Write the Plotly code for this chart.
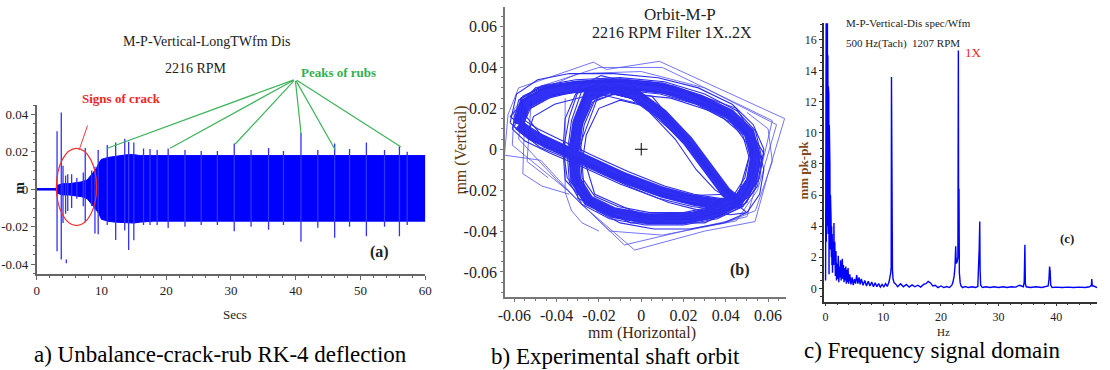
import plotly.graph_objects as go

# ---------------- DATA ----------------
# Panel (a): time waveform envelope (s, m)
env_t = [0, 3.0, 3.1, 4.0, 5.0, 6.0, 7.0, 7.8, 8.3, 8.8, 9.2, 9.6, 10.0, 10.5, 11.0, 12.0, 13.0,
         14.0, 15.0, 16.0, 18.0, 25.0, 35.0, 45.0, 55.0, 60.0]
env_hi = [0.0004, 0.0004, 0.002, 0.003, 0.003, 0.0035, 0.004, 0.005, 0.007, 0.009, 0.011, 0.014,
          0.016, 0.0165, 0.017, 0.0175, 0.018, 0.0185, 0.0185, 0.018, 0.018, 0.018, 0.018, 0.018,
          0.018, 0.018]
env_lo = [-0.0004, -0.0004, -0.002, -0.003, -0.003, -0.0035, -0.004, -0.005, -0.007, -0.009, -0.011,
          -0.013, -0.016, -0.0165, -0.017, -0.0175, -0.0178, -0.018, -0.018, -0.0175, -0.017, -0.017,
          -0.017, -0.017, -0.017, -0.017]
spike_t = [3.15, 3.8, 4.07, 4.47, 4.58, 4.8, 5.4, 6.2, 7.2, 7.5, 8.5, 9.0, 9.5, 10.9, 12.2, 13.6,
           14.2, 15.0, 16.5, 17.5, 18.6, 20.3, 22.9, 25.4, 27.9, 30.5, 33.1, 35.8, 38.1, 40.8, 43.4,
           46.0, 48.3, 50.9, 53.7, 56.0, 57.2]
spike_hi = [0.031, 0.041, 0.0126, 0.0074, -0.0375, 0.008, 0.008, 0.006, 0.009, 0.022, 0.010, 0.012,
            0.021, 0.0236, 0.025, 0.027, 0.0254, 0.025, 0.0218, 0.0215, 0.021, 0.0218, 0.021, 0.0205,
            0.0205, 0.0245, 0.021, 0.022, 0.0205, 0.030, 0.021, 0.0245, 0.0215, 0.025, 0.021, 0.023,
            0.020]
spike_lo = [-0.033, -0.0374, -0.018, -0.013, -0.0395, -0.0116, -0.010, -0.005, -0.009, -0.0176, -0.009,
            -0.0236, -0.024, -0.019, -0.027, -0.022, -0.0324, -0.0272, -0.019, -0.019, -0.019, -0.0206,
            -0.020, -0.019, -0.019, -0.0224, -0.020, -0.0216, -0.019, -0.028, -0.0205, -0.0259, -0.020,
            -0.025, -0.020, -0.025, -0.019]
rub_t = [10.93, 20.6, 30.66, 40.84, 46.1, 56.2]
rub_y = [0.0219, 0.0219, 0.0242, 0.029, 0.021, 0.0227]
a_xticks = [0, 10, 20, 30, 40, 50, 60]
a_yticks = [-0.04, -0.02, 0, 0.02, 0.04]
a_ytext = ["-0.04", "-0.02", "0", "0.02", "0.04"]

# Panel (b): orbit paths (mm) - main band path and thin repeat cycles
orbit_band_x = [-0.058, -0.055, -0.045, -0.030, -0.010, 0.010, 0.028, 0.042, 0.051, 0.054, 0.052, 0.046,
                0.035, 0.020, 0.003, -0.013, -0.025, -0.031, -0.032, -0.030, -0.025, -0.015, -0.003,
                0.010, 0.022, 0.032, 0.040, 0.046, 0.038, 0.025, 0.010, -0.008, -0.025, -0.040, -0.052,
                -0.058]
orbit_band_y = [0.012, 0.022, 0.028, 0.031, 0.032, 0.030, 0.024, 0.017, 0.008, -0.004, -0.016, -0.025,
                -0.031, -0.034, -0.034, -0.031, -0.025, -0.015, -0.002, 0.013, 0.026, 0.030, 0.027,
                0.017, 0.004, -0.011, -0.021, -0.026, -0.027, -0.025, -0.021, -0.014, -0.006, 0.001,
                0.007, 0.012]
orbit_cycles = [
    ([-0.061, -0.058, -0.047, -0.031, -0.010, 0.011, 0.030, 0.045, 0.054, 0.057, 0.055, 0.048, 0.036,
      0.020, 0.002, -0.015, -0.028, -0.034, -0.035, -0.033, -0.028, -0.017, -0.005, 0.008, 0.020, 0.030,
      0.039, 0.048, 0.039, 0.024, 0.008, -0.010, -0.027, -0.043, -0.055, -0.061],
     [0.010, 0.024, 0.031, 0.034, 0.035, 0.033, 0.027, 0.019, 0.009, -0.004, -0.018, -0.028, -0.034,
      -0.037, -0.037, -0.034, -0.027, -0.016, -0.002, 0.014, 0.029, 0.033, 0.030, 0.020, 0.007, -0.008,
      -0.019, -0.028, -0.030, -0.028, -0.024, -0.017, -0.009, -0.002, 0.004, 0.010]),
    ([-0.055, -0.052, -0.043, -0.029, -0.010, 0.009, 0.026, 0.039, 0.048, 0.051, 0.049, 0.044, 0.034,
      0.020, 0.004, -0.011, -0.022, -0.028, -0.029, -0.027, -0.022, -0.013, -0.001, 0.012, 0.024, 0.034,
      0.041, 0.044, 0.037, 0.025, 0.011, -0.006, -0.023, -0.037, -0.049, -0.055],
     [0.014, 0.021, 0.026, 0.028, 0.029, 0.027, 0.022, 0.015, 0.007, -0.004, -0.014, -0.022, -0.028,
      -0.031, -0.031, -0.028, -0.023, -0.014, -0.002, 0.012, 0.024, 0.027, 0.024, 0.014, 0.001, -0.013,
      -0.022, -0.024, -0.024, -0.022, -0.018, -0.011, -0.003, 0.004, 0.010, 0.014]),
    ([-0.060, -0.056, -0.046, -0.032, -0.012, 0.008, 0.026, 0.040, 0.049, 0.053, 0.051, 0.045, 0.034,
      0.019, 0.002, -0.014, -0.026, -0.033, -0.034, -0.031, -0.026, -0.016, -0.004, 0.009, 0.021, 0.031,
      0.038, 0.044, 0.036, 0.023, 0.008, -0.010, -0.027, -0.042, -0.053, -0.060],
     [0.016, 0.026, 0.031, 0.033, 0.033, 0.031, 0.026, 0.019, 0.011, 0.000, -0.013, -0.022, -0.029,
      -0.032, -0.032, -0.029, -0.023, -0.013, 0.001, 0.016, 0.028, 0.032, 0.029, 0.019, 0.006, -0.009,
      -0.019, -0.023, -0.025, -0.023, -0.019, -0.011, -0.003, 0.004, 0.011, 0.016]),
    ([-0.057, -0.054, -0.044, -0.028, -0.008, 0.012, 0.030, 0.044, 0.053, 0.056, 0.054, 0.048, 0.037,
      0.021, 0.004, -0.012, -0.024, -0.030, -0.031, -0.029, -0.023, -0.013, -0.001, 0.012, 0.024, 0.034,
      0.042, 0.048, 0.040, 0.026, 0.011, -0.006, -0.023, -0.038, -0.050, -0.057],
     [0.009, 0.019, 0.025, 0.029, 0.030, 0.028, 0.022, 0.014, 0.005, -0.007, -0.019, -0.028, -0.033,
      -0.036, -0.036, -0.033, -0.027, -0.017, -0.004, 0.010, 0.023, 0.027, 0.024, 0.015, 0.002, -0.013,
      -0.023, -0.028, -0.029, -0.027, -0.023, -0.016, -0.008, -0.001, 0.004, 0.009]),
    ([-0.059, -0.057, -0.047, -0.034, -0.015, 0.004, 0.022, 0.037, 0.047, 0.052, 0.053, 0.049, 0.040,
      0.026, 0.008, -0.009, -0.022, -0.030, -0.033, -0.032, -0.027, -0.018, -0.006, 0.006, 0.018, 0.028,
      0.037, 0.045, 0.035, 0.021, 0.005, -0.012, -0.029, -0.044, -0.054, -0.059],
     [0.014, 0.025, 0.030, 0.032, 0.034, 0.033, 0.028, 0.021, 0.012, 0.002, -0.011, -0.022, -0.030,
      -0.034, -0.035, -0.032, -0.026, -0.017, -0.005, 0.010, 0.024, 0.031, 0.029, 0.021, 0.009, -0.005,
      -0.016, -0.024, -0.026, -0.024, -0.020, -0.013, -0.005, 0.002, 0.008, 0.014]),
    ([-0.062, -0.059, -0.049, -0.034, -0.013, 0.008, 0.027, 0.043, 0.053, 0.058, 0.056, 0.050, 0.038,
      0.022, 0.004, -0.013, -0.027, -0.036, -0.037, -0.034, -0.029, -0.019, -0.007, 0.006, 0.018, 0.029,
      0.038, 0.047, 0.037, 0.022, 0.006, -0.012, -0.030, -0.046, -0.057, -0.062],
     [0.013, 0.027, 0.034, 0.037, 0.037, 0.035, 0.030, 0.022, 0.012, 0.000, -0.014, -0.024, -0.031,
      -0.034, -0.034, -0.031, -0.025, -0.015, -0.001, 0.016, 0.031, 0.036, 0.033, 0.023, 0.010, -0.006,
      -0.017, -0.025, -0.028, -0.026, -0.022, -0.015, -0.006, 0.001, 0.008, 0.013]),
    ([-0.054, -0.051, -0.041, -0.026, -0.006, 0.014, 0.032, 0.046, 0.055, 0.058, 0.056, 0.050, 0.039,
      0.023, 0.006, -0.010, -0.021, -0.027, -0.028, -0.026, -0.020, -0.010, 0.002, 0.015, 0.027, 0.036,
      0.044, 0.050, 0.042, 0.028, 0.013, -0.004, -0.021, -0.036, -0.048, -0.054],
     [0.006, 0.016, 0.022, 0.026, 0.027, 0.025, 0.019, 0.011, 0.002, -0.010, -0.022, -0.031, -0.036,
      -0.039, -0.039, -0.036, -0.030, -0.020, -0.007, 0.007, 0.020, 0.024, 0.021, 0.012, -0.001, -0.016,
      -0.026, -0.031, -0.032, -0.030, -0.026, -0.019, -0.011, -0.004, 0.001, 0.006]),
    ([-0.060, -0.057, -0.048, -0.033, -0.012, 0.008, 0.025, 0.039, 0.049, 0.054, 0.053, 0.047, 0.036,
      0.021, 0.003, -0.014, -0.027, -0.035, -0.037, -0.036, -0.031, -0.021, -0.009, 0.004, 0.016, 0.026,
      0.035, 0.043, 0.034, 0.020, 0.004, -0.014, -0.031, -0.045, -0.055, -0.060],
     [0.011, 0.023, 0.029, 0.032, 0.033, 0.031, 0.026, 0.018, 0.009, -0.003, -0.015, -0.024, -0.030,
      -0.033, -0.033, -0.030, -0.024, -0.014, 0.000, 0.015, 0.027, 0.031, 0.028, 0.018, 0.005, -0.010,
      -0.020, -0.025, -0.026, -0.024, -0.020, -0.013, -0.005, 0.002, 0.007, 0.011]),
    ([-0.062, -0.050, -0.020, 0.015, 0.045, 0.058, 0.050, 0.030, -0.005, -0.030, -0.033, -0.025, 0.005,
      0.030, 0.046, 0.020, -0.015, -0.045, -0.062],
     [0.016, 0.030, 0.034, 0.031, 0.020, -0.002, -0.026, -0.036, -0.036, -0.024, 0.000, 0.030, 0.026,
      -0.005, -0.027, -0.026, -0.013, 0.002, 0.016]),
    ([-0.056, -0.040, -0.010, 0.020, 0.040, 0.052, 0.046, 0.025, 0.000, -0.022, -0.029, -0.020, 0.000,
      0.022, 0.040, 0.015, -0.020, -0.045, -0.056],
     [0.018, 0.027, 0.030, 0.026, 0.017, 0.000, -0.022, -0.031, -0.032, -0.022, 0.002, 0.027, 0.022,
      0.002, -0.022, -0.023, -0.009, 0.004, 0.018]),
]
orbit_outliers = [
    ([-0.0647, -0.063, -0.058, -0.0226, -0.0164, 0.0086, 0.0678, 0.060, 0.0538, 0.030, -0.0031, -0.0288,
      -0.0475, -0.0647],
     [-0.0029, 0.017, 0.030, 0.0426, 0.039, 0.043, 0.015, -0.012, -0.0354, -0.040, -0.0493, -0.0265,
      -0.0054, -0.0029]),
    ([-0.061, -0.060, -0.050, -0.020, 0.010, 0.062, 0.057, 0.050, 0.020, -0.008, -0.035, -0.061],
     [0.002, 0.020, 0.030, 0.040, 0.040, 0.014, -0.008, -0.033, -0.040, -0.0468, -0.020, 0.002]),
    ([-0.058, -0.056, -0.030, 0.000, 0.030, 0.064, 0.055, 0.045, 0.010, -0.015, -0.040, -0.058],
     [0.005, 0.025, 0.037, 0.038, 0.030, 0.012, -0.020, -0.035, -0.042, -0.040, -0.015, 0.005]),
    ([-0.036, -0.036, -0.033, -0.028, -0.020], [0.025, -0.021, -0.030, -0.036, -0.040]),
    ([-0.055, -0.056, -0.047, -0.034], [0.021, -0.012, -0.018, -0.022]),
    ([-0.052, -0.054, -0.044], [0.024, -0.006, -0.014]),
    ([0.050, 0.060, 0.062, 0.054, 0.040], [0.018, 0.010, -0.006, -0.030, -0.036]),
]
b_ticks = [-0.06, -0.04, -0.02, 0, 0.02, 0.04, 0.06]
b_text = ["-0.06", "-0.04", "-0.02", "0", "0.02", "0.04", "0.06"]

# Panel (c): spectrum (Hz, mm pk-pk)
spec_f = [0.0, 0.05, 0.1, 0.13, 0.17, 0.2, 0.24, 0.28, 0.32, 0.36, 0.4, 0.44, 0.48, 0.52, 0.56, 0.6,
          0.65, 0.7, 0.75, 0.8, 0.85, 0.9, 0.95, 1.0, 1.05, 1.1, 1.15, 1.2, 1.3, 1.4, 1.45, 1.5, 1.6,
          1.7, 1.8, 1.9, 2.0, 2.1, 2.2, 2.3, 2.4, 2.5, 2.6, 2.7, 2.8, 2.9, 3.0, 3.1, 3.2, 3.3, 3.4,
          3.5, 3.6, 3.7, 3.8, 3.9, 4.0, 4.2, 4.4, 4.6, 4.8, 5.0, 5.2, 5.4, 5.6, 5.8, 6.0, 6.2, 6.5,
          6.8, 7.1, 7.4, 7.7, 8.0, 8.3, 8.6, 8.9, 9.2, 9.5, 9.8, 10.1, 10.4, 10.7, 11.0, 11.3, 11.38,
          11.43, 11.47, 11.54, 11.6, 11.7, 11.9, 12.1, 12.5, 13.0, 13.5, 14.0, 14.5, 15.0, 15.5, 16.0,
          16.5, 17.0, 17.4, 17.8, 18.2, 18.6, 19.0, 19.5, 20.0, 20.5, 21.0, 21.5, 21.9, 22.1, 22.3,
          22.45, 22.57, 22.65, 22.8, 22.95, 23.03, 23.08, 23.14, 23.2, 23.35, 23.5, 23.8, 24.2, 24.8,
          25.4, 26.0, 26.4, 26.65, 26.74, 26.8, 26.9, 27.2, 27.8, 28.5, 29.2, 30.0, 30.8, 31.5, 32.2,
          33.0, 33.6, 34.0, 34.3, 34.45, 34.57, 34.65, 34.8, 35.5, 36.5, 37.5, 38.3, 38.6, 38.75,
          38.85, 38.95, 39.05, 39.3, 40.0, 41.0, 42.0, 43.0, 44.0, 45.0, 45.8, 46.1, 46.17, 46.25,
          46.5, 47.1]
spec_a = [0.5, 5.0, 17.1, 3.0, 16.0, 5.0, 15.3, 6.0, 17.1, 4.0, 15.0, 3.5, 13.0, 4.5, 12.5, 0.9,
          10.5, 3.0, 8.0, 2.5, 6.0, 3.5, 4.5, 2.0, 4.0, 1.5, 3.5, 1.0, 3.0, 1.5, 4.2, 2.0, 3.0,
          0.8, 2.4, 0.5, 1.6, 0.6, 2.1, 0.4, 1.4, 0.7, 1.8, 0.5, 1.2, 1.9, 0.6, 1.5, 0.4, 1.3, 0.5,
          1.4, 0.3, 1.2, 0.4, 1.3, 0.3, 0.9, 0.25, 0.7, 0.2, 0.6, 0.3, 0.85, 0.3, 0.7, 0.25, 0.6, 0.2,
          0.5, 0.15, 0.45, 0.15, 0.4, 0.1, 0.35, 0.1, 0.3, 0.08, 0.25, 0.1, 0.3, 0.12, 0.4, 1.0, 1.4,
          13.6, 1.5, 5.5, 1.2, 0.6, 0.35, 0.3, 0.1, 0.3, 0.1, 0.25, 0.08, 0.22, 0.1, 0.2,
          0.08, 0.25, 0.3, 0.45, 0.35, 0.15, 0.2, 0.05, 0.15, 0.05, 0.12, 0.05, 0.2, 0.4, 0.8,
          1.4, 2.7, 1.6, 1.7, 2.0, 15.3, 2.5, 6.4, 1.0, 0.35, 0.15, 0.05, 0.12, 0.05,
          0.1, 0.05, 0.12, 2.6, 4.3, 1.2, 0.2, 0.05, 0.1, 0.05, 0.1, 0.05, 0.1, 0.05, 0.1,
          0.08, 0.2, 0.15, 0.1, 0.4, 2.8, 0.3, 0.1, 0.05, 0.1, 0.05, 0.1, 0.15, 0.6,
          1.4, 1.1, 0.2, 0.05, 0.08, 0.05, 0.08, 0.05, 0.08, 0.05, 0.1, 0.2, 0.6, 0.15,
          0.15, 0.05]
c_xticks = [0, 10, 20, 30, 40]
c_yticks = [0, 2, 4, 6, 8, 10, 12, 14, 16]

# ---------------- FIGURE ----------------
W, H = 1110, 370
def fx(p): return p / W
def fy(p): return 1 - p / H

FONT = "Liberation Serif, Times New Roman, serif"
BLUE = "rgb(0,0,255)"

fig = go.Figure()

# Panel (a)
fig.add_trace(go.Scatter(x=env_t, y=env_hi, mode="lines", line=dict(color=BLUE, width=1),
                         xaxis="x", yaxis="y", hoverinfo="skip"))
fig.add_trace(go.Scatter(x=env_t, y=env_lo, mode="lines", line=dict(color=BLUE, width=1),
                         fill="tonexty", fillcolor=BLUE, xaxis="x", yaxis="y", hoverinfo="skip"))
sx, sy = [], []
for t, h, l in zip(spike_t, spike_hi, spike_lo):
    sx += [t, t, None]
    sy += [l, h, None]
fig.add_trace(go.Scatter(x=sx, y=sy, mode="lines", line=dict(color="rgb(50,50,255)", width=1.3),
                         xaxis="x", yaxis="y", hoverinfo="skip"))

# Panel (b)
for lx, ly in orbit_outliers:
    fig.add_trace(go.Scatter(x=lx, y=ly, mode="lines", line=dict(color="rgb(80,80,245)", width=0.8),
                             xaxis="x2", yaxis="y2", hoverinfo="skip"))
fig.add_trace(go.Scatter(x=orbit_band_x, y=orbit_band_y, mode="lines",
                         line=dict(color="rgba(25,25,245,0.9)", width=11),
                         xaxis="x2", yaxis="y2", hoverinfo="skip"))
for lx, ly in orbit_cycles:
    fig.add_trace(go.Scatter(x=lx, y=ly, mode="lines", line=dict(color="rgb(45,45,240)", width=1.1),
                             xaxis="x2", yaxis="y2", hoverinfo="skip"))
fig.add_trace(go.Scatter(x=[0], y=[0], mode="markers",
                         marker=dict(symbol="cross-thin", size=9, line=dict(color="black", width=1)),
                         xaxis="x2", yaxis="y2", hoverinfo="skip"))

# Panel (c)
fig.add_trace(go.Scatter(x=spec_f, y=spec_a, mode="lines", line=dict(color=BLUE, width=1.4),
                         xaxis="x3", yaxis="y3", hoverinfo="skip"))

axis_common = dict(showline=True, showgrid=False, zeroline=False, ticks="outside", mirror=False)

fig.update_layout(
    width=W, height=H, margin=dict(l=0, r=0, t=0, b=0), autosize=False,
    paper_bgcolor="white", plot_bgcolor="white", showlegend=False,
    font=dict(family=FONT, color="#222"),
    xaxis=dict(domain=[fx(30), fx(423.3)], range=[0, 60], anchor="y", **axis_common,
               linecolor="#666", linewidth=1.5, tickcolor="#666", ticklen=4,
               tickvals=a_xticks, tickfont=dict(size=13),
               minor=dict(ticks="outside", ticklen=2, dtick=2, tick0=0, tickcolor="#666")),
    yaxis=dict(domain=[fy(274), fy(105)], range=[-0.0452, 0.0450], anchor="x", **axis_common,
               linecolor="#666", linewidth=1.5, tickcolor="#666", ticklen=4,
               tickvals=a_yticks, ticktext=a_ytext, tickfont=dict(size=13),
               minor=dict(ticks="outside", ticklen=2, dtick=0.005, tick0=0, tickcolor="#666")),
    xaxis2=dict(domain=[fx(504), fx(788.3)], range=[-0.0644, 0.0685], anchor="y2", **axis_common,
                linecolor="#777", linewidth=2, tickcolor="#777", ticklen=3,
                tickvals=b_ticks, ticktext=b_text, tickfont=dict(size=16),
                minor=dict(ticks="outside", ticklen=2, dtick=0.005, tick0=0, tickcolor="#777")),
    yaxis2=dict(domain=[fy(296.7), fy(6.7)], range=[-0.0721, 0.0697], anchor="x2", **axis_common,
                linecolor="#777", linewidth=2, tickcolor="#777", ticklen=3,
                tickvals=b_ticks, ticktext=b_text, tickfont=dict(size=16),
                minor=dict(ticks="outside", ticklen=2, dtick=0.005, tick0=0, tickcolor="#777")),
    xaxis3=dict(domain=[fx(826.7), fx(1103.3)], range=[-0.27, 47.14], anchor="y3", **axis_common,
                linecolor="#333", linewidth=1.5, tickcolor="#333", ticklen=3,
                tickvals=c_xticks, tickfont=dict(size=12),
                minor=dict(ticks="outside", ticklen=2, dtick=2, tick0=0, tickcolor="#333")),
    yaxis3=dict(domain=[fy(301.7), fy(23.3)], range=[-0.86, 17.05], anchor="x3", **axis_common,
                linecolor="#333", linewidth=1.5, tickcolor="#333", ticklen=3,
                tickvals=c_yticks, tickfont=dict(size=12),
                minor=dict(ticks="outside", ticklen=2, dtick=0.5, tick0=0, tickcolor="#333")),
)

ann = []
def txt(x, y, s, size, color="#222", bold=False, angle=0, xanchor="center"):
    if bold:
        s = "<b>" + s + "</b>"
    ann.append(dict(xref="paper", yref="paper", x=fx(x), y=fy(y), text=s, showarrow=False,
                    xanchor=xanchor, yanchor="middle", textangle=angle,
                    font=dict(family=FONT, size=size, color=color)))

# Panel (a) texts
txt(202, 42, "M-P-Vertical-LongTWfm Dis", 14)
txt(191, 68, "2216 RPM", 14)
txt(295, 72, "Peaks of rubs", 13, color="rgb(50,175,80)", bold=True, xanchor="left")
txt(116, 99, "Signs of crack", 13, color="rgb(235,40,40)", bold=True)
txt(377, 252, "(a)", 16, bold=True)
txt(12, 188, "m", 14, bold=True, angle=-90)
txt(231, 314, "Secs", 13)
# Panel (b) texts
txt(681, 14, "Orbit-M-P", 17)
txt(673, 32, "2216 RPM Filter 1X..2X", 16)
txt(742, 270, "(b)", 16, bold=True)
txt(459, 150, "mm (Vertical)", 16, color="rgb(95,60,20)", angle=-90)
txt(643, 333, "mm (Horizontal)", 16, color="rgb(60,40,20)")
# Panel (c) texts
txt(847, 23, "M-P-Vertical-Dis spec/Wfm", 11, xanchor="left")
txt(847, 43, "500 Hz(Tach)  1207 RPM", 11, xanchor="left")
txt(967, 53, "1X", 13, color="rgb(235,30,30)", xanchor="left")
txt(1073, 238, "(c)", 13, bold=True)
txt(805, 170, "mm pk-pk", 13, color="rgb(130,75,25)", bold=True, angle=-90)
txt(948, 332, "Hz", 11)
# Captions
txt(216, 354, "a) Unbalance-crack-rub RK-4 deflection", 23, color="black")
txt(616, 356, "b) Experimental shaft orbit", 23, color="black")
txt(936, 350, "c) Frequency signal domain", 23, color="black")

# green leader lines to rub peaks
apex_t, apex_y = 39.92, 0.0587
for t, yv in zip(rub_t, rub_y):
    ann.append(dict(xref="x", yref="y", axref="x", ayref="y", x=t, y=yv, ax=apex_t, ay=apex_y,
                    text="", showarrow=True, arrowhead=0, arrowwidth=1.2,
                    arrowcolor="rgb(60,180,90)", standoff=0, startstandoff=0))
# red leader line to crack ellipse
ann.append(dict(xref="x", yref="y", axref="x", ayref="y", x=6.56, y=0.021, ax=7.93, ay=0.0348,
                text="", showarrow=True, arrowhead=0, arrowwidth=1, arrowcolor="rgb(240,60,60)",
                standoff=0, startstandoff=0))

fig.update_layout(annotations=ann,
                  shapes=[dict(type="circle", xref="x", yref="y", x0=3.05, x1=9.26,
                               y0=-0.0194, y1=0.0219, line=dict(color="rgb(240,50,50)", width=1.2))])

# remove the browser's default 8px body margin so the figure sits at the page origin
fig.write_html("out.html", config={"displayModeBar": False},
               post_script="document.body.style.margin='0';")
